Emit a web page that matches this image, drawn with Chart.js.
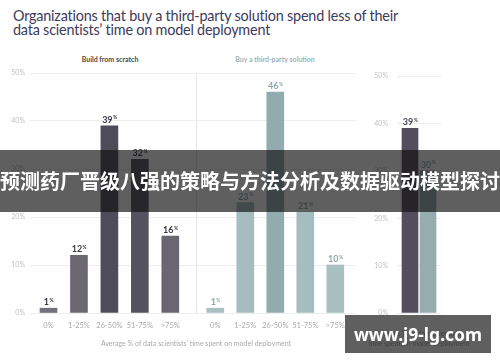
<!DOCTYPE html>
<html>
<head>
<meta charset="utf-8">
<script src="https://cdn.jsdelivr.net/npm/chart.js@4"></script>
<style>
  body { margin: 0; background: #fff; width: 500px; height: 362px; overflow: hidden; position: relative; font-family: Lato, "Open Sans", sans-serif; }
  canvas { position: absolute; }
  .title { position: absolute; left: 13px; top: 9px; font-size: 14.4px; letter-spacing: -0.2px; line-height: 13.5px; color: #3e3a5b; white-space: nowrap; }
  .panel-title { position: absolute; top: 55px; font-size: 7px; font-weight: bold; transform: translateX(-50%); white-space: nowrap; }
  .axis-title { position: absolute; font-size: 7px; color: #aaa; text-align: center; transform: translateX(-50%); white-space: nowrap; line-height: 10px; }
  .banner { position: absolute; left: 0; top: 150px; width: 500px; height: 62px; background: rgba(16,16,16,0.67); color: #fff;
            font-family: "Noto Sans CJK SC", sans-serif; font-weight: bold; font-size: 20px; line-height: 62px; text-align: center; white-space: nowrap; }
  .site { position: absolute; left: 345px; top: 315px; width: 146px; height: 38px; background: rgba(16,16,16,0.67); color: #fff;
          font-family: "Noto Sans", sans-serif; font-weight: bold; font-size: 17.5px; line-height: 38px; text-align: center; }
</style>
</head>
<body>
<div class="title">Organizations that buy a third-party solution spend less of their<br>data scientists’ time on model deployment</div>
<div class="panel-title" style="left:110px; color:#4a4a4a;">Build from scratch</div>
<div class="panel-title" style="left:275px; color:#9cb4b6;">Buy a third-party solution</div>

<canvas id="scratchChart" width="196" height="290" style="left:0; top:63px;"></canvas>
<canvas id="vendorChart" width="164" height="290" style="left:194px; top:63px;"></canvas>
<canvas id="avgChart" width="132" height="290" style="left:353px; top:63px;"></canvas>

<div class="axis-title" style="left:196px; top:338px;">Average % of data scientists’ time spent on model deployment</div>
<div class="axis-title" style="left:419px; top:328px;">Average % of data scientists’<br>time spent on model deployment</div>

<div class="banner">预测药厂晋级八强的策略与方法分析及数据驱动模型探讨</div>
<div class="site">www.j9-lg.com</div>

<script>
// --- DATA ---
const timeBuckets = ['0%', '1-25%', '26-50%', '51-75%', '>75%'];
const scratchValues = [1, 12, 39, 32, 16];
const vendorValues = [1, 23, 46, 21, 10];
const avgLabels = ['Build from scratch', 'Buy a third-party solution'];
const avgValues = [39, 30];
const yTicks = [0, 10, 20, 30, 40, 50];

// --- STYLES ---
const DARK = '#3a3847';
const TEAL = '#8fa9ab';
const GRID = '#ededed';
const scratchColors = ['#75717b', '#6c6873', '#4f4c5a', '#555260', '#6a6671'];
const vendorColors = ['#a9c0c2', '#a6bdbf', '#92abae', '#a6bdbf', '#a9c0c2'];

Chart.defaults.font.family = 'Lato, "Open Sans", sans-serif';
Chart.defaults.animation = false;

// value labels with a small superscript %
const valueLabels = {
    id: 'valueLabels',
    afterDatasetsDraw(chart) {
        const ctx = chart.ctx;
        chart.data.datasets.forEach((ds, di) => {
            const meta = chart.getDatasetMeta(di);
            meta.data.forEach((bar, i) => {
                const raw = ds.data[i];
                const num = String(typeof raw === 'object' ? raw.y : raw);
                ctx.save();
                ctx.fillStyle = ds.labelColor;
                ctx.textBaseline = 'alphabetic';
                ctx.font = 'bold 9px Lato';
                const w1 = ctx.measureText(num).width;
                ctx.font = 'bold 5px Lato';
                const w2 = ctx.measureText('%').width;
                const x0 = bar.x - (w1 + w2) / 2;
                const y = bar.y - 3;
                ctx.font = 'bold 9px Lato';
                ctx.fillText(num, x0, y);
                ctx.font = 'bold 5px Lato';
                ctx.fillText('%', x0 + w1 + 0.5, y - 3.5);
                ctx.restore();
            });
        });
    }
};

function yScale(showLabels, width, pad, showBorder) {
    return {
        min: 0, max: 50,
        afterBuildTicks: (s) => { s.ticks = yTicks.map(v => ({ value: v })); },
        afterFit: (s) => { s.width = width; },
        grid: { color: GRID, drawTicks: false },
        border: { display: showBorder, color: '#e6e6e6' },
        ticks: { display: showLabels, padding: pad, color: '#c2c2c2', font: { size: 7 }, callback: v => v + '%' }
    };
}

function bucketXScale(min, max) {
    return {
        type: 'linear', min: min, max: max, offset: false,
        afterBuildTicks: (s) => { s.ticks = timeBuckets.map((c, i) => ({ value: i })); },
        afterFit: (s) => { s.height = 20; },
        grid: { display: false, drawTicks: false },
        border: { display: false },
        ticks: { autoSkip: false, maxRotation: 0, padding: 8, color: '#aaa', font: { size: 7.5 }, callback: v => timeBuckets[v] }
    };
}

// 1. Build from scratch
new Chart(document.getElementById('scratchChart').getContext('2d'), {
    type: 'bar',
    data: { datasets: [{ data: scratchValues.map((v, i) => ({ x: i, y: v })), backgroundColor: scratchColors, barThickness: 17, labelColor: DARK }] },
    options: {
        responsive: false,
        layout: { padding: { top: 10, right: 1, left: 0, bottom: 20 } },
        plugins: { legend: { display: false }, tooltip: { enabled: false } },
        scales: { x: bucketXScale(-0.6075, 4.811), y: yScale(true, 30, 5, false) }
    },
    plugins: [valueLabels]
});

// 2. Buy a third-party solution
new Chart(document.getElementById('vendorChart').getContext('2d'), {
    type: 'bar',
    data: { datasets: [{ data: vendorValues.map((v, i) => ({ x: i, y: v })), backgroundColor: vendorColors, barThickness: 17, labelColor: TEAL }] },
    options: {
        responsive: false,
        layout: { padding: { top: 10, right: 2, left: 2, bottom: 20 } },
        plugins: { legend: { display: false }, tooltip: { enabled: false } },
        scales: { x: bucketXScale(-0.643, 4.69), y: yScale(false, 0, 0, true) }
    },
    plugins: [valueLabels]
});

// 3. Average comparison
new Chart(document.getElementById('avgChart').getContext('2d'), {
    type: 'bar',
    data: {
        labels: [''],
        datasets: [
            { label: avgLabels[0], data: [avgValues[0]], backgroundColor: '#524e5d', barThickness: 18, maxBarThickness: 16, labelColor: '#4a4757' },
            { label: avgLabels[1], data: [avgValues[1]], backgroundColor: '#95adb0', barThickness: 18, maxBarThickness: 16, labelColor: TEAL }
        ]
    },
    options: {
        responsive: false,
        layout: { padding: { top: 10, right: 44, left: 0, bottom: 20 } },
        plugins: { legend: { display: false }, tooltip: { enabled: false } },
        scales: {
            x: { afterFit: (s) => { s.height = 20; }, grid: { display: false }, border: { display: false }, ticks: { display: false } },
            y: yScale(true, 44, 9, false)
        }
    },
    plugins: [valueLabels]
});
</script>
</body>
</html>
